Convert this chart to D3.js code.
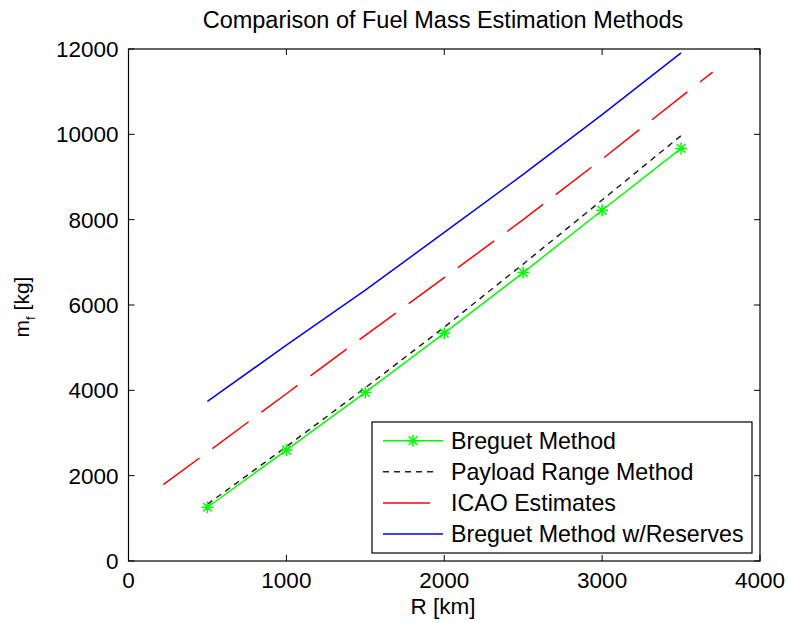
<!DOCTYPE html>
<html>
<head>
<meta charset="utf-8">
<script src="https://cdn.jsdelivr.net/npm/d3@7"></script>
<style>
  html, body { margin: 0; padding: 0; background: #fff; }
  svg { display: block; font-family: "Liberation Sans", Arial, sans-serif; }
</style>
</head>
<body>
<svg id="chart" width="788" height="623"></svg>
<script>
// ---- data ----
const rangeKm = [500, 1000, 1500, 2000, 2500, 3000, 3500];
const breguet = [1260, 2600, 3950, 5340, 6760, 8220, 9670];
const payloadRange = [1330, 2680, 4060, 5480, 6960, 8460, 9970];
const icaoRange = [220, 500, 1000, 1500, 2000, 2500, 3000, 3500, 3700];
const icao = [1790, 2550, 3920, 5290, 6640, 8000, 9420, 10880, 11460];
const breguetReserves = [3740, 5060, 6350, 7700, 9060, 10460, 11910];
const xTicks = [0, 1000, 2000, 3000, 4000];
const yTicks = [0, 2000, 4000, 6000, 8000, 10000, 12000];
const legendLabels = ["Breguet Method", "Payload Range Method", "ICAO Estimates", "Breguet Method w/Reserves"];

const svg = d3.select("#chart");
const L = 128.5, R = 760, T = 49, B = 561;
const x = d3.scaleLinear().domain([0, 4000]).range([L, R]);
const y = d3.scaleLinear().domain([0, 12000]).range([B, T]);
const FS = 22.5;

// title
svg.append("text").attr("x", 443).attr("y", 28).attr("text-anchor", "middle")
  .attr("font-size", 23.5).attr("fill", "#000").text("Comparison of Fuel Mass Estimation Methods");

// lines
const line = (xs, ys) => d3.line().x((d, i) => x(xs[i])).y(d => y(d))(ys);
const g = svg.append("g");
g.append("path").attr("d", line(rangeKm, breguetReserves)).attr("fill", "none")
  .attr("stroke", "#0000ff").attr("stroke-width", 1.5);
g.append("path").attr("d", line(icaoRange, icao)).attr("fill", "none")
  .attr("stroke", "#ff0000").attr("stroke-width", 1.5).attr("stroke-dasharray", "45,16");
g.append("path").attr("d", line(rangeKm, payloadRange)).attr("fill", "none")
  .attr("stroke", "#222").attr("stroke-width", 1.5).attr("stroke-dasharray", "6,5");
g.append("path").attr("d", line(rangeKm, breguet)).attr("fill", "none")
  .attr("stroke", "#00ff00").attr("stroke-width", 1.5);

function star(sel, cx, cy, r) {
  const d = r * 0.72;
  const p = `M${cx - r},${cy}H${cx + r}M${cx},${cy - r}V${cy + r}` +
            `M${cx - d},${cy - d}L${cx + d},${cy + d}M${cx - d},${cy + d}L${cx + d},${cy - d}`;
  sel.append("path").attr("d", p).attr("stroke", "#00ff00").attr("stroke-width", 1.5).attr("fill", "none");
}
breguet.forEach((v, i) => star(g, x(rangeKm[i]), y(v), 6));

// axes box
svg.append("rect").attr("x", L).attr("y", T).attr("width", R - L).attr("height", B - T)
  .attr("fill", "none").attr("stroke", "#000").attr("stroke-width", 1.2);

const tickLen = 6;
const axes = svg.append("g").attr("stroke", "#000").attr("stroke-width", 1);
xTicks.forEach(t => {
  axes.append("line").attr("x1", x(t)).attr("x2", x(t)).attr("y1", B).attr("y2", B - tickLen);
  axes.append("line").attr("x1", x(t)).attr("x2", x(t)).attr("y1", T).attr("y2", T + tickLen);
  svg.append("text").attr("x", x(t)).attr("y", B + 27).attr("text-anchor", "middle")
    .attr("font-size", FS).text(t);
});
yTicks.forEach(t => {
  axes.append("line").attr("y1", y(t)).attr("y2", y(t)).attr("x1", L).attr("x2", L + tickLen);
  axes.append("line").attr("y1", y(t)).attr("y2", y(t)).attr("x1", R).attr("x2", R - tickLen);
  svg.append("text").attr("x", L - 10).attr("y", y(t) + 8).attr("text-anchor", "end")
    .attr("font-size", FS).text(t);
});

// axis labels
svg.append("text").attr("x", 443).attr("y", 614).attr("text-anchor", "middle")
  .attr("font-size", FS).text("R [km]");
const yl = svg.append("text").attr("transform", `translate(29,307) rotate(-90)`)
  .attr("text-anchor", "middle").attr("font-size", 21);
yl.append("tspan").text("m");
yl.append("tspan").attr("font-size", 13).attr("dy", 6).text("f");
yl.append("tspan").attr("dy", -6).text(" [kg]");

// legend
const lg = svg.append("g");
lg.append("rect").attr("x", 372).attr("y", 422).attr("width", 380).attr("height", 131)
  .attr("fill", "#fff").attr("stroke", "#000").attr("stroke-width", 1.2);
const rowsY = [440.7, 471.7, 503, 534];
const styles = [
  { c: "#00ff00", dash: null, x2: 443 },
  { c: "#222", dash: "6,5", x2: 438 },
  { c: "#ff0000", dash: null, x2: 430 },
  { c: "#0000ff", dash: null, x2: 443 }
];
legendLabels.forEach((lab, i) => {
  const s = styles[i];
  const ln = lg.append("line").attr("x1", 383).attr("x2", s.x2).attr("y1", rowsY[i]).attr("y2", rowsY[i])
    .attr("stroke", s.c).attr("stroke-width", 1.5);
  if (s.dash) ln.attr("stroke-dasharray", s.dash);
  lg.append("text").attr("x", 451).attr("y", rowsY[i] + 8).attr("font-size", 23.2).text(lab);
});
star(lg, 413, rowsY[0], 6);
</script>
</body>
</html>
